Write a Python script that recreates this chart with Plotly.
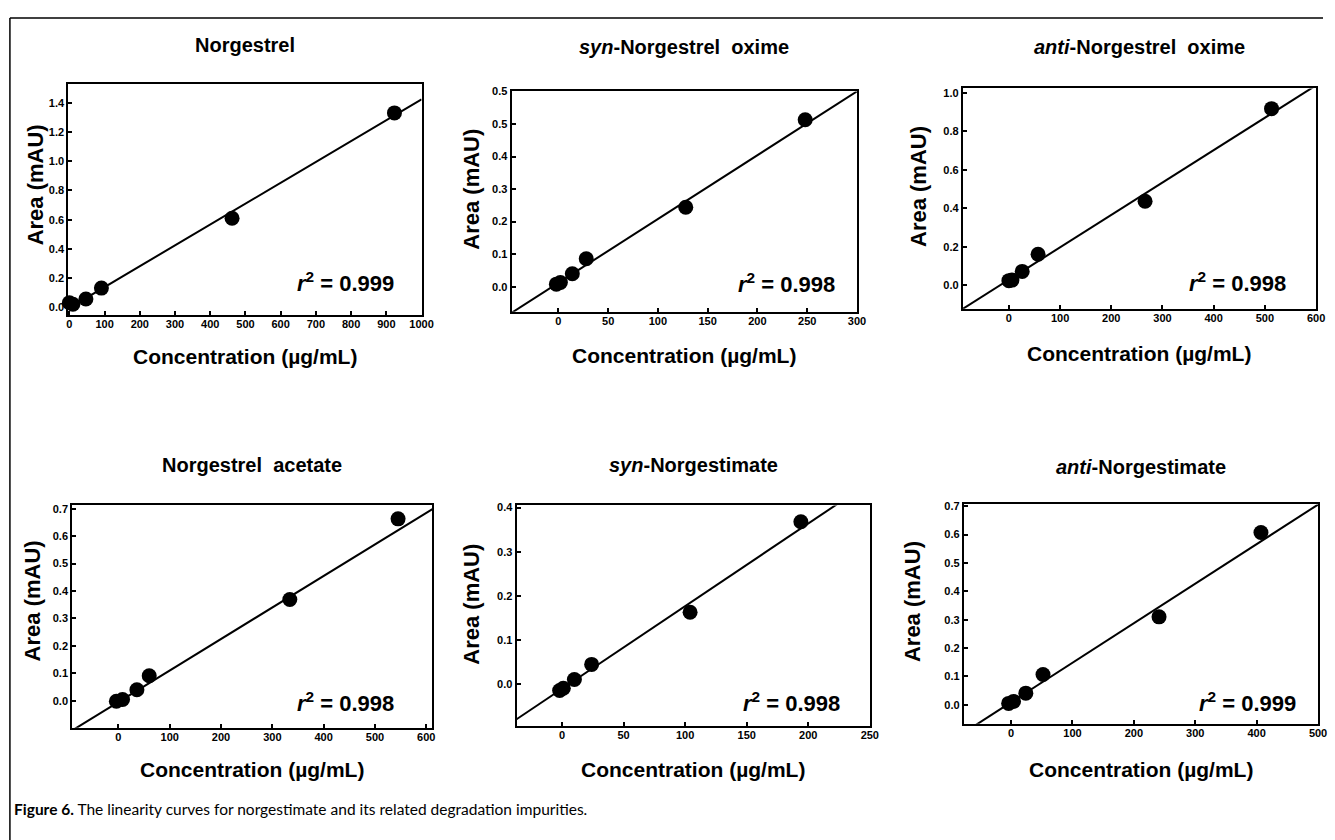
import plotly.graph_objects as go

W, H = 1335, 840

# ---------------- data ----------------
titles = ["Norgestrel", "<i>syn</i>-Norgestrel  oxime", "<i>anti</i>-Norgestrel  oxime",
          "Norgestrel  acetate", "<i>syn</i>-Norgestimate", "<i>anti</i>-Norgestimate"]

conc_norgestrel = [0, 10, 47, 91, 462, 923]
area_norgestrel = [0.03, 0.02, 0.056, 0.131, 0.61, 1.332]

conc_syn_oxime = [-2, 2, 14, 28, 128, 248]
area_syn_oxime = [0.008, 0.013, 0.040, 0.086, 0.244, 0.513]

conc_anti_oxime = [0, 6, 26, 57, 266, 513]
area_anti_oxime = [0.025, 0.028, 0.073, 0.162, 0.437, 0.917]

conc_acetate = [-4, 8, 36, 60, 334, 545]
area_acetate = [-0.002, 0.004, 0.040, 0.091, 0.369, 0.663]

conc_syn_ngm = [-2, 1, 10, 24, 104, 194]
area_syn_ngm = [-0.014, -0.009, 0.011, 0.045, 0.163, 0.368]

conc_anti_ngm = [-4, 4, 24, 52, 241, 407]
area_anti_ngm = [0.005, 0.012, 0.041, 0.107, 0.310, 0.607]

concs = [conc_norgestrel, conc_syn_oxime, conc_anti_oxime, conc_acetate, conc_syn_ngm, conc_anti_ngm]
areas = [area_norgestrel, area_syn_oxime, area_anti_oxime, area_acetate, area_syn_ngm, area_anti_ngm]

fit_slope = [0.00143, 0.00196, 0.00168, 0.00115, 0.00187, 0.001393]
fit_intercept = [-0.005, 0.012, 0.030, -0.005, -0.010, 0.009]
r2_values = ["0.999", "0.998", "0.998", "0.998", "0.998", "0.999"]

x_tickvals = [[0, 100, 200, 300, 400, 500, 600, 700, 800, 900, 1000],
              [0, 50, 100, 150, 200, 250, 300],
              [0, 100, 200, 300, 400, 500, 600],
              [0, 100, 200, 300, 400, 500, 600],
              [0, 50, 100, 150, 200, 250],
              [0, 100, 200, 300, 400, 500]]
x_ticktext = [["0", "100", "200", "300", "400", "500", "600", "700", "800", "900", "1000"],
              ["0", "50", "100", "150", "200", "250", "300"],
              ["0", "100", "200", "300", "400", "500", "600"],
              ["0", "100", "200", "300", "400", "500", "600"],
              ["0", "50", "100", "150", "200", "250"],
              ["0", "100", "200", "300", "400", "500"]]
y_tickvals = [[0.0, 0.2, 0.4, 0.6, 0.8, 1.0, 1.2, 1.4],
              [0.0, 0.1, 0.2, 0.3, 0.4, 0.5, 0.6],
              [0.0, 0.2, 0.4, 0.6, 0.8, 1.0],
              [0.0, 0.1, 0.2, 0.3, 0.4, 0.5, 0.6, 0.7],
              [0.0, 0.1, 0.2, 0.3, 0.4],
              [0.0, 0.1, 0.2, 0.3, 0.4, 0.5, 0.6, 0.7]]
y_ticktext = [["0.0", "0.2", "0.4", "0.6", "0.8", "1.0", "1.2", "1.4"],
              ["0.0", "0.1", "0.2", "0.3", "0.4", "0.5", "0.5"],
              ["0.0", "0.2", "0.4", "0.6", "0.8", "1.0"],
              ["0.0", "0.1", "0.2", "0.3", "0.4", "0.5", "0.6", "0.7"],
              ["0.0", "0.1", "0.2", "0.3", "0.4"],
              ["0.0", "0.1", "0.2", "0.3", "0.4", "0.5", "0.6", "0.7"]]

x_title = "Concentration (µg/mL)"
y_title = "Area (mAU)"
caption = "<b>Figure 6.</b> The linearity curves for norgestimate and its related degradation impurities."

# ---------------- layout (pixel boxes) ----------------
x_ranges = [[-3, 1000], [-47, 300], [-90, 600], [-90, 612], [-37, 250], [-77, 500]]
y_ranges = [[-0.052, 1.527], [-0.077, 0.60], [-0.121, 1.022], [-0.099, 0.712], [-0.094, 0.405], [-0.067, 0.706]]
boxes = [(67, 424, 79, 311), (515, 864, 86, 308), (971, 1328, 83, 305),
         (71, 435, 503, 727), (520, 877, 503, 725), (972, 1330, 502, 723)]
title_y = [39, 41, 41, 462, 462, 464]
xtitle_y = [353, 352, 350, 769, 769, 769]
ytitle_pos = [(34, 180), (475, 185), (926, 182), (31, 599), (475, 603), (920, 600)]
r2_pos = [(398, 278), (844, 279), (1300, 278), (398, 701), (849, 701), (1310, 701)]

def fx(px):
    return px / W

def fy(py):
    return 1 - py / H

def bold(labels):
    return ["<b>" + s + "</b>" for s in labels]

FONT = "Liberation Sans"
fig = go.Figure()
annotations = []

for i in range(6):
    k = "" if i == 0 else str(i + 1)
    xa, ya = "x" + k, "y" + k
    L, R, T, B = boxes[i]
    xr = x_ranges[i]
    fig.add_trace(go.Scatter(
        x=xr, y=[fit_intercept[i] + fit_slope[i] * v for v in xr],
        mode="lines", line=dict(color="black", width=2),
        xaxis=xa, yaxis=ya, showlegend=False, hoverinfo="skip"))
    fig.add_trace(go.Scatter(
        x=concs[i], y=areas[i], mode="markers",
        marker=dict(color="black", size=15),
        xaxis=xa, yaxis=ya, showlegend=False, cliponaxis=False))
    common = dict(showline=True, linecolor="black", linewidth=2, mirror=True,
                  ticks="inside", ticklen=4, tickwidth=1.5, tickcolor="black",
                  showgrid=False, zeroline=False,
                  tickfont=dict(family=FONT, size=11, color="black"))
    fig.update_layout(**{
        "xaxis" + k: dict(domain=[fx(L), fx(R)], range=xr, anchor=ya,
                          tickvals=x_tickvals[i], ticktext=bold(x_ticktext[i]),
                          ticklabelstandoff=-2, **common),
        "yaxis" + k: dict(domain=[fy(B), fy(T)], range=y_ranges[i], anchor=xa,
                          tickvals=y_tickvals[i], ticktext=bold(y_ticktext[i]), **common),
    })
    annotations.append(dict(text="<b>" + titles[i] + "</b>", x=fx((L + R) / 2), y=fy(title_y[i]),
                            xref="paper", yref="paper", showarrow=False,
                            xanchor="center", yanchor="middle",
                            font=dict(family=FONT, size=20, color="black")))
    annotations.append(dict(text="<b>" + x_title + "</b>", x=fx((L + R) / 2), y=fy(xtitle_y[i]),
                            xref="paper", yref="paper", showarrow=False,
                            xanchor="center", yanchor="middle",
                            font=dict(family=FONT, size=21, color="black")))
    annotations.append(dict(text="<b>" + y_title + "</b>", x=fx(ytitle_pos[i][0]), y=fy(ytitle_pos[i][1]),
                            xref="paper", yref="paper", showarrow=False, textangle=-90,
                            xanchor="center", yanchor="middle",
                            font=dict(family=FONT, size=22, color="black")))
    annotations.append(dict(text="<b><i>r</i><sup>2</sup> = " + r2_values[i] + "</b>",
                            x=fx(r2_pos[i][0]), y=fy(r2_pos[i][1]),
                            xref="paper", yref="paper", showarrow=False,
                            xanchor="right", yanchor="middle",
                            font=dict(family=FONT, size=22, color="black")))

annotations.append(dict(text=caption, x=fx(10), y=fy(809), xref="paper", yref="paper",
                        showarrow=False, xanchor="left", yanchor="middle",
                        font=dict(family="Lato", size=15.5, color="black")))

shapes = [
    dict(type="line", xref="paper", yref="paper", x0=fx(8), x1=1, y0=fy(12), y1=fy(12),
         line=dict(color="black", width=1.5)),
    dict(type="line", xref="paper", yref="paper", x0=fx(8), x1=fx(8), y0=fy(12), y1=0,
         line=dict(color="black", width=1.5)),
]

fig.update_layout(width=W, height=H, margin=dict(l=0, r=0, t=0, b=0),
                  paper_bgcolor="white", plot_bgcolor="white",
                  annotations=annotations, shapes=shapes, showlegend=False)

fig.write_html("out.html")
